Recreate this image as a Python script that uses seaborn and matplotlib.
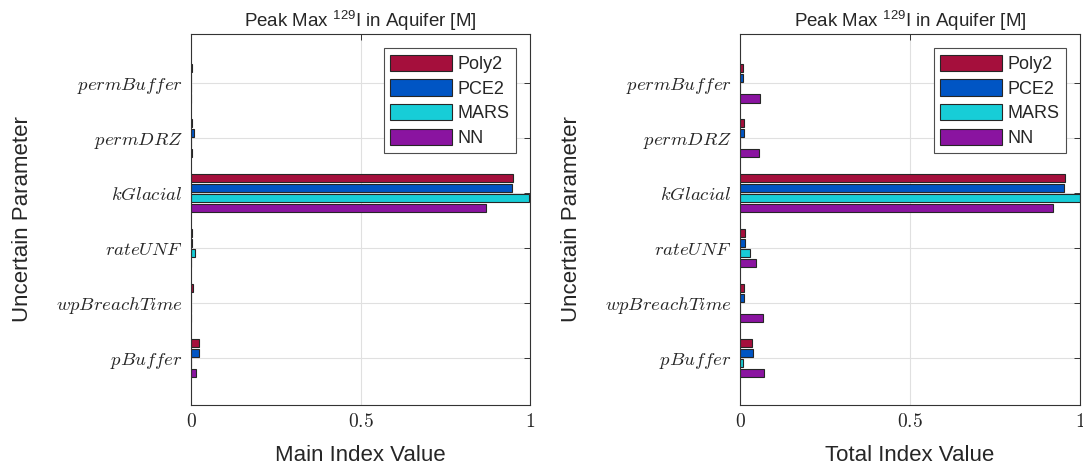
import matplotlib
matplotlib.use("Agg")
import matplotlib.pyplot as plt
import seaborn as sns
import pandas as pd

# Uncertain parameters (top to bottom) and surrogate models
params = ["permBuffer", "permDRZ", "kGlacial", "rateUNF", "wpBreachTime", "pBuffer"]
models = ["Poly2", "PCE2", "MARS", "NN"]

# Main (first-order) sensitivity indices
main_poly2 = [0.002, 0.003, 0.950, 0.002, 0.006, 0.024]
main_pce2 = [0.001, 0.009, 0.947, 0.002, 0.001, 0.025]
main_mars = [0.000, 0.001, 0.998, 0.012, 0.000, 0.001]
main_nn = [0.000, 0.002, 0.870, 0.000, 0.000, 0.015]

# Total sensitivity indices
total_poly2 = [0.010, 0.013, 0.956, 0.016, 0.013, 0.036]
total_pce2 = [0.010, 0.012, 0.953, 0.015, 0.011, 0.037]
total_mars = [0.001, 0.001, 1.000, 0.028, 0.001, 0.010]
total_nn = [0.059, 0.057, 0.920, 0.048, 0.068, 0.071]

x_ticks = [0, 0.5, 1]
x_tick_labels = ["$0$", "$0.5$", "$1$"]

colors = ["#A50F3C", "#0055C4", "#17CDD7", "#8A14A0"]

sns.set_style("white")
plt.rcParams["font.family"] = ["Liberation Sans", "DejaVu Sans"]
plt.rcParams["mathtext.fontset"] = "cm"


def long_frame(series):
    rows = []
    for m, vals in zip(models, series):
        for p, v in zip(params, vals):
            rows.append({"param": p, "model": m, "value": v})
    return pd.DataFrame(rows)


df_main = long_frame([main_poly2, main_pce2, main_mars, main_nn])
df_total = long_frame([total_poly2, total_pce2, total_mars, total_nn])

fig = plt.figure(figsize=(10.83, 4.65), dpi=100)
ax1 = fig.add_axes([191 / 1083, 60 / 465, 339 / 1083, 371 / 465])
ax2 = fig.add_axes([740 / 1083, 60 / 465, 340 / 1083, 371 / 465])

for ax, df, xlabel in [(ax1, df_main, "Main Index Value"),
                       (ax2, df_total, "Total Index Value")]:
    ax.set_axisbelow(True)
    sns.barplot(data=df, x="value", y="param", hue="model",
                order=params, hue_order=models, palette=colors,
                width=0.733, gap=0.2, edgecolor="0.15", linewidth=0.8,
                saturation=1, ax=ax, legend=True)
    ax.grid(True, axis="both", color="0.88", linewidth=0.8)
    ax.set_xlim(0, 1)
    ax.set_ylim(5.86, -0.9)
    ax.set_xticks(x_ticks)
    ax.set_xticklabels(x_tick_labels, fontsize=14)
    ax.set_yticks(range(len(params)))
    ax.set_yticklabels([f"${p}$" for p in params], fontsize=13.5)
    ax.tick_params(direction="in", length=4, width=0.7, color="0.2",
                   top=True, right=True, pad=6)
    for s in ax.spines.values():
        s.set_visible(True)
        s.set_color("0.2")
        s.set_linewidth(0.8)
    ax.set_xlabel(xlabel, fontsize=16, labelpad=10)
    ax.set_ylabel("Uncertain Parameter", fontsize=16, labelpad=16)
    ax.set_title("Peak Max $\\mathregular{^{129}}$I in Aquifer [M]",
                 fontsize=13.5, pad=5)
    leg = ax.legend(loc="upper right", fontsize=13, frameon=True,
                    fancybox=False, framealpha=1, edgecolor="0.3",
                    handlelength=3.4, handleheight=1.0, labelspacing=0.35,
                    handletextpad=0.3, borderpad=0.35, borderaxespad=0.8)
    leg.get_frame().set_linewidth(0.8)

fig.savefig("out.png", dpi=100)
